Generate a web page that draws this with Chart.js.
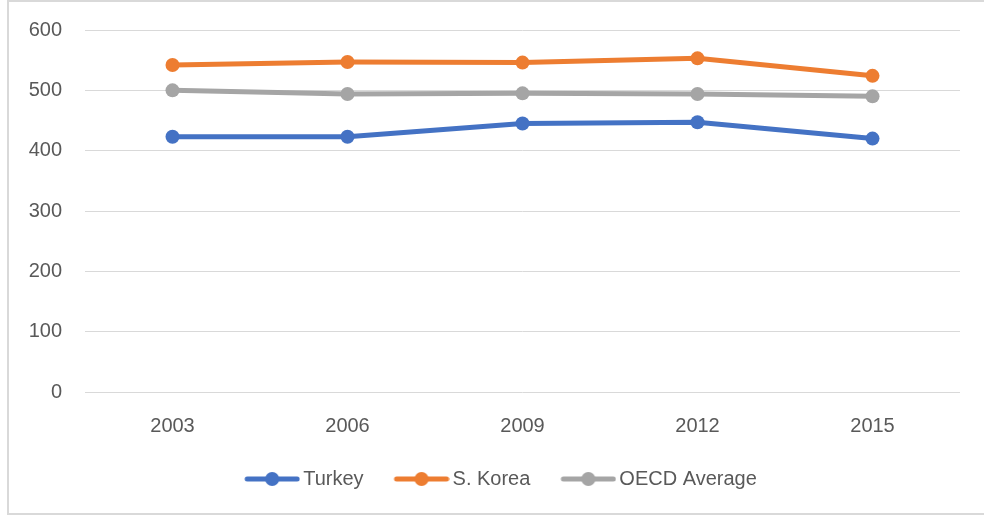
<!DOCTYPE html>
<html>
<head>
<meta charset="utf-8">
<script src="https://cdn.jsdelivr.net/npm/chart.js@4"></script>
<style>
  html,body{margin:0;padding:0;background:#fff;overflow:hidden;}
  #frame{position:absolute;left:7px;top:0;width:977px;height:515px;border:2px solid #D9D9D9;border-right:none;box-sizing:border-box;}
  #c{display:block;}
</style>
</head>
<body>
<div id="frame"><canvas id="c" width="972" height="511"></canvas></div>
<script>
const years = ["2003","2006","2009","2012","2015"];
const turkey = [423, 423, 445, 447, 420];
const korea = [542, 547, 546, 553, 524];
const oecd = [500, 494, 495, 494, 490];
const yTicks = [0, 100, 200, 300, 400, 500, 600];

const COLORS = { turkey:"#4472C4", korea:"#ED7D31", oecd:"#A5A5A5" };
const FONT = "'Liberation Sans', Arial, sans-serif";

// legend mark: line with a dot, pushed to the right of the image so it meets the text
function legendMark(color){
  const cv = document.createElement("canvas");
  cv.width = 63; cv.height = 16;
  const g = cv.getContext("2d");
  const x0 = 7, x1 = 63;
  g.strokeStyle = color; g.lineWidth = 5; g.lineCap = "round";
  g.beginPath(); g.moveTo(x0 + 3, 8); g.lineTo(x1 - 3, 8); g.stroke();
  g.fillStyle = color;
  g.beginPath(); g.arc((x0 + x1) / 2, 8, 7, 0, Math.PI*2); g.fill();
  return cv;
}

// chart.js centres the legend row including the trailing padding, move it back
const legendShift = {
  id:"legendShift",
  afterInit(chart){
    const lg = chart.legend, orig = lg.draw;
    lg.draw = function(){ const c = this.ctx; c.save(); c.translate(16, 0); orig.apply(this, arguments); c.restore(); };
  },
};

function ds(label, data, color){
  return { label, data, borderColor:color, backgroundColor:color, borderWidth:5,
    pointRadius:7, pointHoverRadius:7, pointBackgroundColor:color, pointBorderWidth:0, tension:0 };
}

new Chart(document.getElementById("c"), {
  type:"line",
  data:{
    labels: years,
    datasets:[
      ds("Turkey", turkey, COLORS.turkey),
      ds("S. Korea", korea, COLORS.korea),
      ds("OECD Average", oecd, COLORS.oecd),
    ],
  },
  options:{
    responsive:false, animation:false,
    layout:{ padding:{ top:28, right:21, bottom:14, left:0 } },
    scales:{
      x:{ offset:true, grid:{ display:false, drawTicks:false }, border:{ display:false },
        afterFit: s => { s.height = 47; },
        ticks:{ color:"#595959", font:{ family:FONT, size:20 }, padding:22 } },
      y:{ min:0, max:600, grid:{ color:"#D9D9D9", lineWidth:1, drawTicks:false }, border:{ display:false },
        afterBuildTicks: s => { s.ticks = yTicks.map(v => ({ value:v })); },
        afterFit: s => { s.width = 76; s.paddingTop = 0; s.paddingBottom = 0; },
        ticks:{ color:"#595959", font:{ family:FONT, size:20 }, padding:23 } },
    },
    plugins:{
      tooltip:{ enabled:false },
      legend:{ position:"bottom",
        labels:{ usePointStyle:true, pointStyleWidth:49, color:"#595959", font:{ family:FONT, size:20 }, padding:30,
          generateLabels: chart => chart.data.datasets.map((d,i) => ({
            text:d.label, fillStyle:d.borderColor, strokeStyle:d.borderColor, lineWidth:0,
            pointStyle: legendMark(d.borderColor), datasetIndex:i, hidden:false, fontColor:"#595959" })) } },
    },
  },
  plugins:[legendShift],
});
</script>
</body>
</html>
